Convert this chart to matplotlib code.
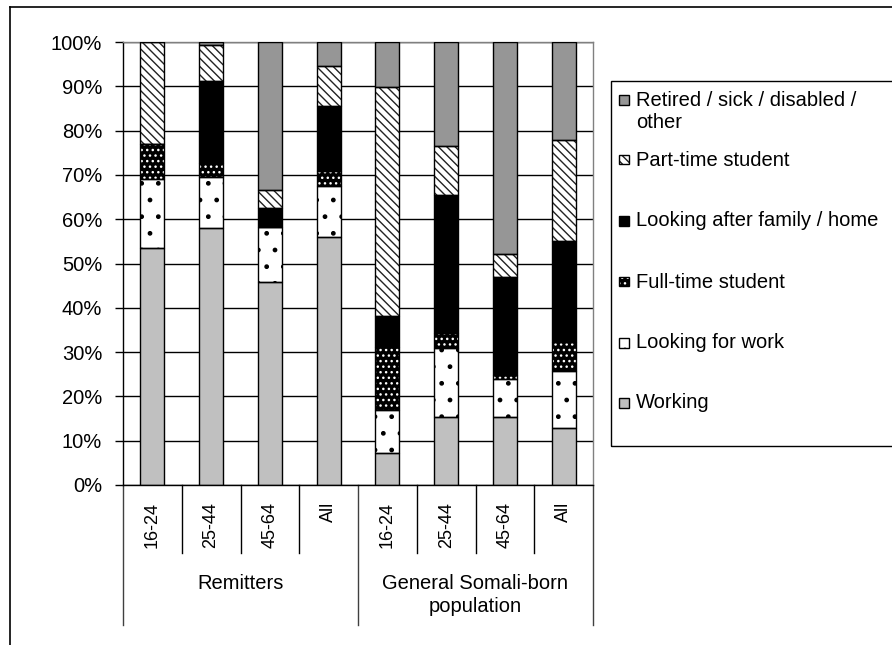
import matplotlib.pyplot as plt
import numpy as np
from matplotlib.lines import Line2D
from matplotlib.patches import Rectangle

plt.rcParams['font.family'] = ['Liberation Sans', 'DejaVu Sans']

# data (percent of each group)
age_groups = ['16-24', '25-44', '45-64', 'All', '16-24', '25-44', '45-64', 'All']
group_names = ['Remitters', 'General Somali-born\npopulation']
working = [53.5, 58.1, 45.8, 55.9, 7.3, 15.4, 15.4, 12.9]
looking_for_work = [15.5, 11.4, 12.5, 11.7, 9.6, 15.6, 8.6, 12.9]
full_time_student = [7.9, 3.2, 0.0, 3.2, 14.3, 3.2, 0.8, 6.5]
family_home = [0.0, 18.5, 4.3, 14.7, 6.9, 31.2, 22.2, 22.8]
part_time_student = [23.1, 8.1, 3.9, 9.0, 51.8, 11.1, 5.1, 22.7]
retired_other = [0.0, 0.7, 33.5, 5.5, 10.1, 23.5, 47.9, 22.2]

series = [
    ('Working', working, '#c0c0c0', None, None),
    ('Looking for work', looking_for_work, 'white', '.', 'black'),
    ('Full-time student', full_time_student, 'black', '...', 'white'),
    ('Looking after family / home', family_home, 'black', None, None),
    ('Part-time student', part_time_student, 'white', '\\\\\\\\', '#222222'),
    ('Retired / sick / disabled /\nother', retired_other, '#969696', None, None),
]

W, H = 892, 645
FS = 14.5


def fx(px):
    return px / W


def fy(py):
    return 1 - py / H


fig = plt.figure(figsize=(W / 100, H / 100), dpi=100)
ax = fig.add_axes([fx(123), fy(485), fx(593) - fx(123), fy(42) - fy(485)])

x = np.arange(len(age_groups))
bar_w = 0.41
bottom = np.zeros(len(x))
for name, vals, face, hatch, hcol in series:
    vals = np.array(vals)
    if hatch:
        ax.bar(x, vals, bar_w, bottom=bottom, color=face, hatch=hatch,
               edgecolor=hcol, linewidth=0, zorder=2)
    else:
        ax.bar(x, vals, bar_w, bottom=bottom, color=face, linewidth=0, zorder=2)
    # black outline
    ax.bar(x, vals, bar_w, bottom=bottom, fill=False, edgecolor='black',
           linewidth=1, zorder=3)
    bottom += vals

ax.set_xlim(-0.5, len(x) - 0.5)
ax.set_ylim(0, 100)
ax.set_yticks(np.arange(0, 101, 10))
ax.set_yticklabels([f'{v}%' for v in range(0, 101, 10)], fontsize=FS)
ax.tick_params(axis='y', direction='out', length=6, width=1, pad=9, colors='black')
ax.set_xticks([])
ax.grid(axis='y', color='black', linewidth=1, zorder=0)
ax.set_axisbelow(True)

for s in ['top', 'right']:
    ax.spines[s].set_color('#808080')
for s in ['left', 'bottom']:
    ax.spines[s].set_color('black')
for s in ax.spines.values():
    s.set_linewidth(1)

# multi-level category axis
tr = ax.get_xaxis_transform()
ax_h = 485 - 42
for i in range(len(x) + 1):
    xb = i - 0.5
    if i % 4 == 0:
        y_end = -(625 - 485) / ax_h
        col = '#404040'
    else:
        y_end = -(553 - 485) / ax_h
        col = 'black'
    ax.plot([xb, xb], [0, y_end], color=col, lw=1, transform=tr, clip_on=False)

for xi, lab in zip(x, age_groups):
    ax.text(xi, -(502 - 485) / ax_h, lab, rotation=90, ha='center', va='top',
            fontsize=13, transform=tr)

for g, name in enumerate(group_names):
    ax.text(g * 4 + 1.5, -(574 - 485) / ax_h, name, ha='center', va='top',
            fontsize=FS, linespacing=1.3, transform=tr)

# legend box drawn on the figure
fig.add_artist(Rectangle((fx(611), fy(446)), fx(900) - fx(611), fy(81) - fy(446),
                         transform=fig.transFigure, fill=False, edgecolor='black', lw=1))
legend_y = [111.5, 160, 221, 282, 343, 403]
for (name, vals, face, hatch, hcol), ly in zip(series[::-1], legend_y):
    hy = ly + 4.5 if '\n' not in name else ly - 6.5
    fig.add_artist(Rectangle((fx(619), fy(hy)), fx(9.5), fy(0) - fy(9.5),
                             transform=fig.transFigure, facecolor=face,
                             hatch=hatch, edgecolor=hcol if hatch else 'black', lw=0))
    fig.add_artist(Rectangle((fx(619), fy(hy)), fx(9.5), fy(0) - fy(9.5),
                             transform=fig.transFigure, fill=False,
                             edgecolor='black', lw=1))
    fig.text(fx(636), fy(ly), name, ha='left', va='center', fontsize=FS,
             linespacing=1.15)

# outer chart frame (top and left visible)
fig.add_artist(Line2D([fx(9.5), fx(9.5)], [fy(7), 0], color='black', lw=1.2))
fig.add_artist(Line2D([fx(9.5), 1], [fy(7), fy(7)], color='black', lw=1.2))

fig.savefig('out.png', dpi=100)
